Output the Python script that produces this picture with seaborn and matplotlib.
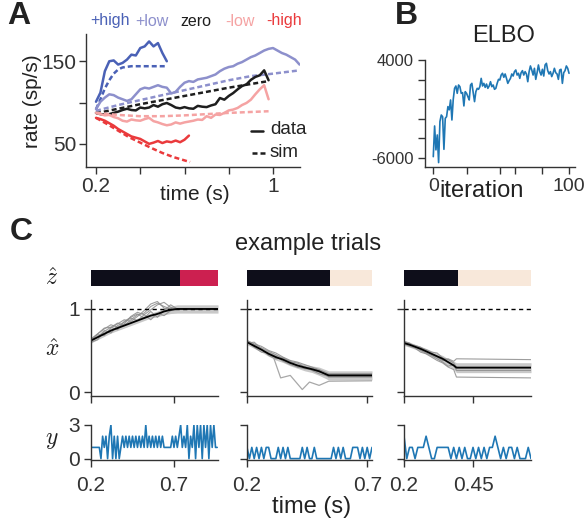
import numpy as np
import matplotlib
matplotlib.use("Agg")
import matplotlib.pyplot as plt
import seaborn as sns

# ---------------- panel A: firing rates (sp/s) ----------------
# data traces, one sample every 20 ms starting at 0.2 s
rate_pos_high = [101, 112, 138, 150, 151, 146, 148, 152, 158, 157, 166, 168, 174, 168, 172, 160, 150]
rate_pos_low = [92, 101, 106, 110, 109, 106, 104, 102, 104, 110, 116, 118, 117, 119, 121, 119,
                118, 111, 113, 119, 124, 126, 125, 128, 129, 130, 132, 134, 138, 141, 143, 144,
                147, 149, 152, 155, 157, 160, 163, 165, 166, 163, 160, 158, 155, 152, 146]
rate_zero = [87.5, 86, 85.5, 86, 87.5, 89, 91, 92.5, 91, 90.5, 94, 93, 94, 97, 95, 98, 99.5, 97,
             94, 93, 94.5, 93, 92.5, 96, 95, 94.5, 96.5, 98, 105.5, 103.5, 108, 111.5, 116, 120,
             122, 127.5, 131, 133, 139, 127]
rate_neg_low = [87.5, 86, 84.5, 85, 82.5, 81, 78, 77, 79.5, 78.5, 78, 80, 81.5, 77.5, 76, 74,
                72.5, 73.5, 76, 74.5, 76, 77, 78, 79.5, 79, 83.5, 81.5, 85.5, 85, 87.5, 90.5,
                91.5, 93.5, 97, 99.5, 103.5, 110, 116, 121, 104]
rate_neg_high = [81.5, 80, 78, 75, 72, 68, 65, 62, 59, 57.5, 56, 53, 50, 51.5, 53.5, 51, 53, 52,
                 54, 52, 55, 60]

# simulated rates (time, rate)
sim_t_pos_high = [0.2, 0.22, 0.24, 0.26, 0.28, 0.30, 0.32, 0.36, 0.52]
sim_pos_high = [92, 104, 117, 127, 135, 140, 142.5, 144, 144]
sim_t_pos_low = [0.2, 0.3, 0.4, 0.5, 0.6, 0.7, 0.8, 0.9, 1.0, 1.12]
sim_pos_low = [90, 97, 103, 109, 115, 121, 127, 132, 135, 139]
sim_t_zero = [0.2, 0.4, 0.6, 0.8, 0.98]
sim_zero = [87, 98, 108, 118, 126]
sim_t_neg_low = [0.2, 0.3, 0.4, 0.5, 0.6, 0.7, 0.8, 0.98]
sim_neg_low = [87.5, 85, 83.5, 83.5, 84.5, 86, 87.5, 89.5]
sim_t_neg_high = [0.2, 0.25, 0.3, 0.35, 0.4, 0.45, 0.5, 0.55, 0.6, 0.625]
sim_neg_high = [81.5, 74, 66, 58, 51.5, 45, 39, 34, 30, 28]

cond_names = ['+high', '+low', 'zero', '-low', '-high']

# ---------------- panel B: ELBO per iteration ----------------
elbo = [-5890, -2750, -5200, -3670, -6500, -2300, -1630, -1800, -5140, -1970, -1800, -770,
        -1100, -90, -2140, -20, 1100, 1340, 590, 1440, 1270, 590, 660, -700, 760, 590, 250,
        -90, 1440, 1610, 660, -260, 760, 1100, 1000, 1270, 2120, 1340, 1610, 1200, 1540, 1100,
        1340, 1780, 1270, 1440, 1000, 1100, 1610, 2020, 1950, 2460, 2640, 2230, 2570, 2120,
        1610, 1890, 2120, 2570, 2360, 2810, 2980, 2460, 2640, 2120, 2700, 2910, 2460, 2810,
        2570, 1780, 2810, 3390, 2980, 2460, 3150, 2020, 2700, 3490, 2810, 2460, 3050, 2360,
        3490, 3660, 2910, 2570, 2810, 2300, 2640, 3150, 2700, 2570, 2020, 2980, 3050, 1610,
        2700, 2910, 3390, 3150, 2640]

# ---------------- panel C: three example trials ----------------
trial_end = [0.965, 0.72, 0.66]
z_switch = [0.736, 0.546, 0.396]
trial_xticks = [[0.2, 0.7], [0.2, 0.7], [0.2, 0.45]]
trial_xticklabels = [['0.2', '0.7'], ['0.2', '0.7'], ['0.2', '0.45']]

xh1_t = [0.2, 0.24, 0.28, 0.32, 0.36, 0.40, 0.44, 0.48, 0.52, 0.56, 0.60, 0.64, 0.68, 0.72, 0.965]
xh1_mean = [0.62, 0.66, 0.70, 0.74, 0.77, 0.80, 0.83, 0.86, 0.89, 0.92, 0.94, 0.97, 0.99, 1.0, 1.0]
xh1_sd = [0.03, 0.03, 0.03, 0.03, 0.03, 0.03, 0.03, 0.03, 0.03, 0.03, 0.035, 0.04, 0.045, 0.05, 0.05]
xh1_samples = [
    [0.63, 0.70, 0.77, 0.78, 0.83, 0.80, 0.87, 0.93, 0.95, 1.03, 1.07, 1.03, 1.00, 1.0, 1.0],
    [0.60, 0.63, 0.73, 0.78, 0.75, 0.85, 0.90, 0.94, 0.89, 0.97, 0.90, 0.98, 1.05, 1.0, 1.0],
    [0.62, 0.69, 0.68, 0.77, 0.82, 0.87, 0.85, 0.91, 0.98, 1.06, 1.09, 1.01, 0.99, 1.0, 1.0],
    [0.61, 0.66, 0.74, 0.71, 0.80, 0.84, 0.89, 0.86, 0.93, 0.87, 0.95, 0.92, 0.98, 1.0, 1.0],
    [0.64, 0.70, 0.76, 0.81, 0.78, 0.82, 0.91, 0.96, 0.93, 0.99, 1.05, 1.08, 1.02, 1.0, 1.0],
]

xh2_t = [0.2, 0.23, 0.26, 0.29, 0.32, 0.35, 0.38, 0.41, 0.44, 0.47, 0.50, 0.54, 0.72]
xh2_mean = [0.60, 0.555, 0.51, 0.46, 0.42, 0.39, 0.35, 0.32, 0.295, 0.275, 0.25, 0.20, 0.20]
xh2_sd = [0.03, 0.03, 0.03, 0.03, 0.035, 0.035, 0.035, 0.035, 0.04, 0.04, 0.05, 0.055, 0.055]
xh2_samples = [
    [0.62, 0.58, 0.55, 0.50, 0.47, 0.42, 0.38, 0.36, 0.33, 0.30, 0.27, 0.22, 0.22],
    [0.59, 0.60, 0.52, 0.44, 0.40, 0.41, 0.37, 0.30, 0.31, 0.26, 0.22, 0.19, 0.19],
    [0.60, 0.57, 0.53, 0.49, 0.45, 0.40, 0.36, 0.35, 0.30, 0.29, 0.26, 0.18, 0.18],
    [0.61, 0.54, 0.48, 0.47, 0.43, 0.37, 0.33, 0.30, 0.28, 0.27, 0.24, 0.21, 0.21],
]
xh2_outlier_t = [0.2, 0.24, 0.28, 0.31, 0.34, 0.38, 0.43, 0.46, 0.50, 0.54, 0.72]
xh2_outlier = [0.60, 0.55, 0.50, 0.42, 0.17, 0.20, 0.03, 0.12, 0.08, 0.13, 0.135]

xh3_t = [0.2, 0.22, 0.24, 0.26, 0.28, 0.30, 0.32, 0.34, 0.36, 0.38, 0.39, 0.66]
xh3_mean = [0.59, 0.57, 0.545, 0.52, 0.49, 0.46, 0.43, 0.40, 0.36, 0.32, 0.293, 0.293]
xh3_sd = [0.03, 0.03, 0.03, 0.03, 0.035, 0.035, 0.035, 0.04, 0.04, 0.05, 0.06, 0.06]
xh3_samples = [
    [0.60, 0.58, 0.56, 0.54, 0.50, 0.45, 0.42, 0.38, 0.40, 0.37, 0.40, 0.39],
    [0.58, 0.55, 0.53, 0.48, 0.46, 0.42, 0.38, 0.35, 0.30, 0.27, 0.18, 0.17],
    [0.61, 0.59, 0.54, 0.53, 0.51, 0.48, 0.47, 0.41, 0.39, 0.35, 0.30, 0.30],
    [0.59, 0.56, 0.55, 0.50, 0.47, 0.44, 0.40, 0.36, 0.31, 0.33, 0.26, 0.26],
]

# spike counts, 10 ms bins from 0.2 s
counts1 = [1, 1, 1, 1, 1, 1,
           0, 2, 1, 2, 0, 2, 3, 0, 2, 0, 2, 0, 1, 2,
           1, 2, 1, 2, 1, 2, 1, 2, 1, 2, 1, 2, 1, 3,
           1, 2, 1, 2, 1, 2, 1, 2, 1, 2, 1, 1, 1, 1,
           1, 2, 1, 2, 1, 2, 3, 1,
           2, 1, 3, 0, 2, 1, 3, 0, 3, 1, 3, 0, 3, 1, 3, 0, 3, 1, 3, 1, 1]
counts2 = [1, 0, 1, 0, 1, 0, 1, 0, 1, 1, 0,
           0, 0,
           1, 0, 1, 0, 1, 0,
           0, 0, 0, 0,
           1, 0, 1, 0, 0, 1, 0,
           0, 0, 0, 0, 0, 0,
           1, 0, 1, 0, 1, 0,
           0, 0, 1, 1, 1, 0, 1, 0, 1, 0, 1]
counts3 = [2, 0, 1, 1, 0, 1, 1, 1, 2, 1, 0, 0, 1, 1, 1, 1, 1, 0, 1, 0, 1, 0, 1, 0, 0, 1,
           0, 1, 0, 1, 0, 1, 1, 2, 1, 0, 1, 0, 1, 1, 0, 1, 0, 0, 0, 1, 0]

# ---------------- style ----------------
sns.set_theme(style="ticks")
plt.rcParams['font.family'] = ['Liberation Sans', 'DejaVu Sans']
plt.rcParams['mathtext.fontset'] = 'cm'
plt.rcParams['axes.linewidth'] = 1.0
plt.rcParams['axes.edgecolor'] = '#333333'
plt.rcParams['xtick.color'] = '#333333'
plt.rcParams['ytick.color'] = '#333333'
plt.rcParams['text.color'] = '#222222'

W, H = 584, 520
fig = plt.figure(figsize=(W / 100, H / 100), dpi=100)


def px_axes(l, t, r, b):
    return fig.add_axes([l / W, 1 - b / H, (r - l) / W, (b - t) / H])


def px_text(x, y, s, **kw):
    kw.setdefault('ha', 'center')
    kw.setdefault('va', 'center')
    return fig.text(x / W, 1 - y / H, s, **kw)


def tick_style(ax, size, pad=3):
    ax.tick_params(direction='out', length=5, width=1, labelsize=size, pad=pad)


# ---------------- A ----------------
axA = px_axes(86, 34, 300, 167)
colors_A = ['#4a61b6', '#8d90cc', '#1e1e1e', '#f5a3a3', '#ea3a3c']
data_A = [rate_pos_high, rate_pos_low, rate_zero, rate_neg_low, rate_neg_high]
sims_A = [(sim_t_pos_high, sim_pos_high), (sim_t_pos_low, sim_pos_low), (sim_t_zero, sim_zero),
          (sim_t_neg_low, sim_neg_low), (sim_t_neg_high, sim_neg_high)]
for col, rate, (st, sv) in zip(colors_A, data_A, sims_A):
    t = 0.2 + 0.02 * np.arange(len(rate))
    sns.lineplot(x=t, y=rate, ax=axA, color=col, linewidth=1.8)
    sns.lineplot(x=st, y=sv, ax=axA, color=col, linewidth=1.8, linestyle=(0, (2, 1.2)))
axA.set_xlim(0.1548, 1.122)
axA.set_ylim(22, 183)
axA.set_xticks([0.2, 0.4, 0.6, 0.8, 1.0])
axA.set_xticklabels(['0.2', '', '', '', '1'])
axA.set_yticks([50, 100, 150])
axA.set_yticklabels(['50', '', '150'])
tick_style(axA, 15, pad=2)
sns.despine(ax=axA)

legend_x = [110, 152, 196, 240, 284]
for name, col, x in zip(cond_names, colors_A, legend_x):
    px_text(x, 21, name, color=col, fontsize=11.5)

# data / sim key
axA.plot([(251 - 86) / 214, (263 - 86) / 214], [(167 - 131) / 133] * 2,
         transform=axA.transAxes, color='#1e1e1e', lw=1.8, clip_on=False)
axA.plot([(252 - 86) / 214, (266 - 86) / 214], [(167 - 153) / 133] * 2,
         transform=axA.transAxes, color='#1e1e1e', lw=1.8, ls=(0, (2, 1.2)), clip_on=False)
px_text(270, 130, 'data', ha='left', fontsize=13.5)
px_text(270, 152, 'sim', ha='left', fontsize=13.5)

px_text(33, 101, 'rate (sp/s)', rotation=90, fontsize=15)
px_text(195, 195, 'time (s)', fontsize=15)
px_text(19, 16, 'A', fontsize=23, fontweight='bold')

# ---------------- B ----------------
axB = px_axes(425, 60, 575, 167)
iters = np.linspace(0, 100, len(elbo))
sns.lineplot(x=iters, y=elbo, ax=axB, color='#1f77b4', linewidth=1.2)
axB.set_xlim(-6.1, 104.4)
axB.set_ylim(-6950, 4000)
axB.set_xticks([0, 25, 49, 60, 80, 100])
axB.set_xticklabels(['0', '', '', '', '', '100'])
axB.set_yticks([-6000, -4000, -2000, 0, 2000, 4000])
axB.set_yticklabels(['-6000', '', '', '', '', '4000'])
tick_style(axB, 12, pad=3)
axB.tick_params(axis='x', labelsize=14)
sns.despine(ax=axB)
px_text(504, 36, 'ELBO', fontsize=17)
px_text(482, 191, 'iteration', fontsize=17)
px_text(406, 16, 'B', fontsize=23, fontweight='bold')

# ---------------- C ----------------
px_text(21, 232, 'C', fontsize=23, fontweight='bold')
px_text(308, 244, 'example trials', fontsize=17)
px_text(312, 507, 'time (s)', fontsize=17)
px_text(52, 279, r'$\hat{z}$', fontsize=17)
px_text(52, 350, r'$\hat{x}$', fontsize=17)
px_text(52, 440, r'$y$', fontsize=17)

lefts = [91, 247, 404]
rights = [218, 372, 531]
xh_t = [xh1_t, xh2_t, xh3_t]
xh_mean = [xh1_mean, xh2_mean, xh3_mean]
xh_sd = [xh1_sd, xh2_sd, xh3_sd]
xh_samples = [xh1_samples, xh2_samples, xh3_samples]
counts = [counts1, counts2, counts3]
z_after = ['#cc2050', '#f8e8da', '#f8e8da']

for i in range(3):
    l, r = lefts[i], rights[i]
    xl = (0.2, trial_end[i])

    # z-hat state bar
    axz = px_axes(l, 270, r, 286)
    axz.barh(0, z_switch[i] - 0.2, left=0.2, height=1, color='#0e0e1a', linewidth=0)
    axz.barh(0, trial_end[i] - z_switch[i], left=z_switch[i], height=1, color=z_after[i],
             linewidth=0)
    axz.set_xlim(*xl)
    axz.set_ylim(-0.5, 0.5)
    axz.axis('off')

    # x-hat samples
    axx = px_axes(l, 300, r, 396)
    mean = np.array(xh_mean[i])
    sd = np.array(xh_sd[i])
    axx.fill_between(xh_t[i], mean - sd, mean + sd, color='#c9c9c9', lw=0, zorder=1)
    for s in xh_samples[i]:
        sns.lineplot(x=xh_t[i], y=s, ax=axx, color='#8c8c8c', linewidth=0.8, alpha=0.85)
    if i == 1:
        sns.lineplot(x=xh2_outlier_t, y=xh2_outlier, ax=axx, color='#a8a8a8', linewidth=0.9)
    sns.lineplot(x=xh_t[i], y=mean, ax=axx, color='black', linewidth=1.3)
    axx.axhline(1, color='black', lw=1, ls=(0, (3, 2.5)), clip_on=False)
    axx.set_xlim(*xl)
    axx.set_ylim(-0.048, 1.108)
    axx.set_xticks(trial_xticks[i])
    axx.set_xticklabels([])
    axx.set_yticks([0, 1])
    axx.set_yticklabels(['0', '1'] if i == 0 else [])
    tick_style(axx, 15, pad=3)
    sns.despine(ax=axx)

    # spike counts
    axy = px_axes(l, 425, r, 459.5)
    tb = 0.2 + 0.01 * np.arange(len(counts[i]))
    sns.lineplot(x=tb, y=counts[i], ax=axy, color='#1f77b4', linewidth=1.2)
    axy.set_xlim(*xl)
    axy.set_ylim(-0.08, 3.0)
    axy.set_xticks(trial_xticks[i])
    axy.set_xticklabels(trial_xticklabels[i])
    axy.set_yticks([0, 3])
    axy.set_yticklabels(['0', '3'] if i == 0 else [])
    tick_style(axy, 15, pad=3)
    axy.tick_params(axis='x', pad=7)
    sns.despine(ax=axy)

fig.savefig('out.png', dpi=100)
